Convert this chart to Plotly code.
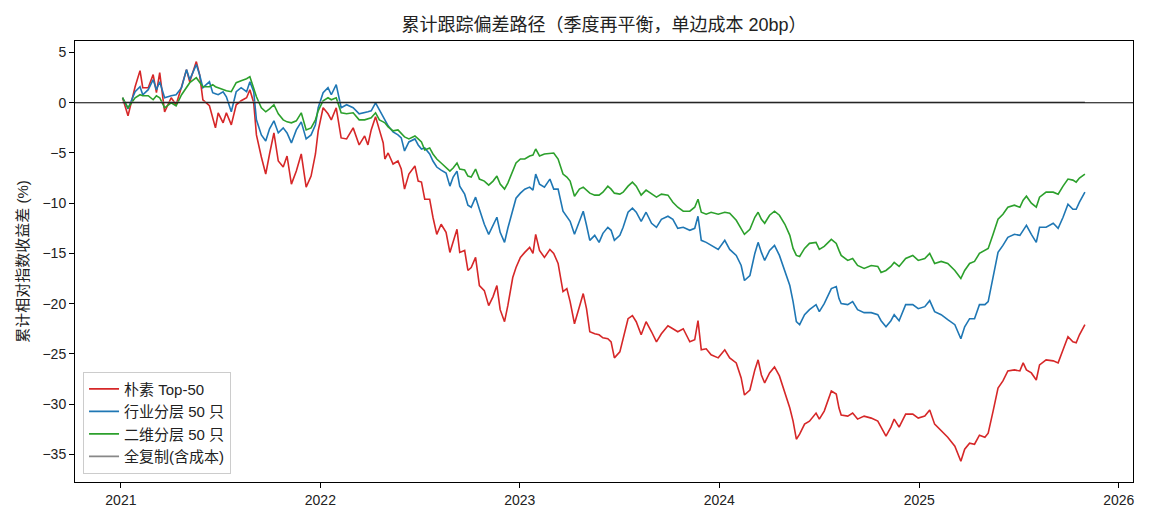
import plotly.graph_objects as go

# 日期
dates = [
    # 2021 - 2022-03
    "2021-01-04", "2021-01-14", "2021-01-27", "2021-02-05", "2021-02-10", "2021-02-20", "2021-03-01", "2021-03-07", "2021-03-13", "2021-03-22",
    "2021-04-03", "2021-04-12", "2021-04-22", "2021-05-01", "2021-05-07", "2021-05-19", "2021-05-25", "2021-05-31", "2021-06-12", "2021-06-18",
    "2021-06-23", "2021-06-28", "2021-07-07", "2021-07-13", "2021-07-22", "2021-07-31", "2021-08-09", "2021-08-19", "2021-08-25", "2021-09-01",
    "2021-09-06", "2021-09-15", "2021-09-23", "2021-09-30", "2021-10-08", "2021-10-16", "2021-10-25", "2021-11-01", "2021-11-09", "2021-11-18",
    "2021-11-27", "2021-12-06", "2021-12-15", "2021-12-23", "2021-12-28", "2022-01-06", "2022-01-15", "2022-01-21", "2022-01-30", "2022-02-08",
    "2022-02-18", "2022-03-02", "2022-03-13",
    # 2022-03 - 2023-05
    "2022-03-23", "2022-03-29", "2022-04-04", "2022-04-12", "2022-04-19", "2022-04-26", "2022-04-29", "2022-05-05", "2022-05-14", "2022-05-23",
    "2022-05-29", "2022-06-04", "2022-06-12", "2022-06-23", "2022-06-29", "2022-07-05", "2022-07-11", "2022-07-20", "2022-07-26", "2022-08-02",
    "2022-08-10", "2022-08-19", "2022-08-26", "2022-09-01", "2022-09-08", "2022-09-13", "2022-09-22", "2022-09-28", "2022-10-04", "2022-10-12",
    "2022-10-19", "2022-10-28", "2022-11-05", "2022-11-13", "2022-11-20", "2022-11-26", "2022-12-04", "2022-12-10", "2022-12-19", "2022-12-25",
    "2023-01-02", "2023-01-10", "2023-01-19", "2023-01-25", "2023-01-30", "2023-02-06", "2023-02-15", "2023-02-25", "2023-03-04", "2023-03-12",
    "2023-03-21", "2023-03-28", "2023-04-03", "2023-04-11", "2023-04-20", "2023-04-27", "2023-05-03", "2023-05-09", "2023-05-18", "2023-05-26",
    # 2023-06 - 2024-08
    "2023-06-02", "2023-06-11", "2023-06-17", "2023-06-23", "2023-07-03", "2023-07-09", "2023-07-18", "2023-07-26", "2023-08-02", "2023-08-11",
    "2023-08-20", "2023-08-30", "2023-09-08", "2023-09-17", "2023-09-29", "2023-10-08", "2023-10-17", "2023-10-27", "2023-11-08", "2023-11-17",
    "2023-11-23", "2023-11-29", "2023-12-08", "2023-12-17", "2023-12-30", "2024-01-11", "2024-01-20", "2024-02-01", "2024-02-10", "2024-02-16",
    "2024-02-26", "2024-03-06", "2024-03-12", "2024-03-18", "2024-03-24", "2024-04-02", "2024-04-11", "2024-04-20", "2024-04-30", "2024-05-09",
    "2024-05-15", "2024-05-21", "2024-05-27", "2024-06-05", "2024-06-14", "2024-06-26", "2024-07-02", "2024-07-11", "2024-07-24", "2024-08-02",
    "2024-08-07",
    # 2024-08 - 2025-10
    "2024-08-11", "2024-08-23", "2024-09-01", "2024-09-10", "2024-09-22", "2024-10-05", "2024-10-17", "2024-10-23", "2024-11-01", "2024-11-10",
    "2024-11-16", "2024-11-25", "2024-12-07", "2024-12-20", "2024-12-30", "2025-01-11", "2025-01-20", "2025-01-29", "2025-02-10", "2025-02-22",
    "2025-03-07", "2025-03-18", "2025-03-25", "2025-04-03", "2025-04-12", "2025-04-21", "2025-05-01", "2025-05-07", "2025-05-16", "2025-05-25",
    "2025-06-03", "2025-06-12", "2025-06-24", "2025-07-04", "2025-07-10", "2025-07-16", "2025-07-25", "2025-08-03", "2025-08-09", "2025-08-21",
    "2025-09-03", "2025-09-12", "2025-09-21", "2025-09-30", "2025-10-09", "2025-10-15", "2025-10-21", "2025-10-31",
]

# 朴素 Top-50
naive = [
    0.5, -1.3, 1.6, 3.2, 1.5, 1.5, 2.8, 1.0, 3.0, -0.9,
    0.5, -0.2, 1.6, 3.3, 2.1, 4.1, 2.8, 0.3, -0.3, -1.5,
    -2.5, -1.0, -2.0, -1.0, -2.2, -0.2, 0.2, 0.5, 1.3, 0.0,
    -3.2, -5.4, -7.1, -5.1, -3.0, -5.8, -6.4, -5.3, -8.1, -6.8,
    -5.1, -8.4, -7.3, -5.1, -2.8, -0.5, -1.1, -1.7, -0.5, -3.5,
    -3.6, -2.5, -4.2,
    -3.3, -4.2, -2.7, -1.4, -2.7, -4.0, -5.6, -5.0, -6.1, -5.8,
    -6.6, -8.6, -7.1, -6.3, -7.8, -7.9, -9.6, -9.6, -11.4, -13.1,
    -12.1, -12.9, -14.9, -13.9, -12.6, -14.9, -14.7, -16.7, -16.4, -15.4,
    -18.2, -18.7, -20.2, -19.3, -18.2, -20.6, -21.8, -20.2, -17.4, -16.4,
    -15.4, -14.9, -14.4, -15.0, -13.1, -14.7, -15.4, -14.6, -15.0, -16.0,
    -18.8, -18.5, -19.8, -22.0, -20.2, -19.0, -20.5, -22.8, -23.0, -23.1,
    -23.4, -23.5, -23.8, -25.4, -24.8, -23.4, -21.5, -21.2, -21.8, -23.1,
    -21.8, -22.8, -23.8, -23.0, -22.2, -22.5, -22.8, -22.5, -23.8, -23.6,
    -21.7, -24.6, -24.5, -25.1, -25.4, -24.6, -25.4, -25.9, -27.4, -29.1,
    -28.6, -26.6, -25.6, -27.1, -27.9, -26.9, -26.3, -27.2, -28.9, -30.4,
    -31.7, -33.5, -33.0, -32.0, -31.7, -30.9, -31.5, -30.7, -28.7, -29.0,
    -30.4,
    -31.1, -31.2, -30.9, -31.5, -31.2, -31.4, -31.7, -32.3, -33.2, -32.3,
    -31.5, -32.3, -31.0, -31.0, -31.4, -31.2, -30.6, -32.0, -32.7, -33.3,
    -34.2, -35.7, -34.5, -33.9, -34.0, -33.1, -33.3, -32.9, -30.7, -28.4,
    -27.7, -26.7, -26.6, -26.7, -25.9, -26.6, -26.9, -27.6, -26.1, -25.6,
    -25.7, -25.9, -24.6, -23.3, -23.8, -23.9, -23.1, -22.1,
]

# 行业分层 50 只
industry = [
    0.5, -0.6, 1.1, 1.6, 0.8, 1.3, 2.3, 1.3, 2.1, 0.5,
    0.7, 0.8, 1.5, 3.3, 2.3, 3.8, 2.8, 1.5, 2.1, 1.0,
    0.9, 0.8, 1.1, 0.6, -0.9, 1.1, 1.5, 1.1, 2.1, 1.1,
    -1.7, -3.2, -3.8, -2.6, -1.8, -3.0, -2.5, -3.0, -4.0, -2.7,
    -1.9, -3.6, -3.2, -2.2, -0.5, 1.0, 1.5, 0.8, 1.8, -0.5,
    -0.2, -0.5, -1.1,
    -1.0, -0.9, -0.8, 0.0, -0.7, -1.4, -1.7, -2.3, -2.9, -3.2,
    -3.5, -4.8, -3.9, -3.6, -4.2, -4.6, -4.5, -5.1, -5.8, -6.4,
    -6.7, -7.0, -8.3, -7.4, -6.8, -8.3, -9.1, -10.2, -10.4, -9.4,
    -10.6, -12.1, -13.1, -12.2, -11.4, -12.9, -13.9, -12.5, -10.6, -9.5,
    -9.0, -8.6, -8.4, -8.7, -7.1, -8.1, -8.4, -7.6, -8.6, -8.6,
    -10.8, -11.4, -11.8, -13.1, -11.9, -10.8, -12.2, -13.7, -13.2, -13.9,
    -13.0, -12.4, -12.7, -13.7, -13.2, -12.4, -10.9, -10.5, -10.9, -11.8,
    -10.9, -12.0, -12.4, -11.6, -11.3, -11.6, -12.5, -12.4, -12.7, -12.5,
    -11.3, -13.7, -13.9, -14.2, -14.6, -13.7, -14.6, -15.2, -16.2, -17.7,
    -17.2, -15.0, -13.9, -14.9, -15.7, -14.7, -14.2, -15.2, -16.7, -18.2,
    -19.8, -21.8, -22.1, -21.1, -20.6, -20.1, -20.8, -20.0, -18.5, -18.3,
    -19.5,
    -20.0, -20.1, -19.8, -20.6, -20.9, -20.9, -21.1, -21.7, -22.3, -21.7,
    -21.1, -21.7, -20.1, -20.1, -20.5, -20.3, -19.7, -20.8, -21.1, -21.6,
    -22.1, -23.5, -22.3, -21.5, -21.5, -20.1, -20.1, -19.8, -17.2, -14.9,
    -14.2, -13.4, -13.1, -13.2, -12.7, -12.2, -13.1, -13.9, -12.4, -12.4,
    -12.0, -12.5, -11.4, -10.1, -10.6, -10.6, -9.9, -8.9,
]

# 二维分层 50 只
twodim = [
    0.5, -0.5, 0.5, 0.8, 0.7, 0.7, 0.3, 0.7, 0.5, -0.5,
    0.0, -0.3, 0.8, 1.6, 2.0, 2.5, 2.0, 1.6, 1.6, 1.8,
    1.6, 1.5, 1.3, 1.2, 1.1, 2.0, 2.2, 2.4, 2.6, 1.5,
    0.6, -0.5, -0.9, -0.6, -0.2, -1.1, -1.7, -1.9, -2.0, -1.8,
    -1.0, -2.7, -2.5, -1.7, -0.8, 0.2, 0.5, 0.3, 0.5, -1.0,
    -1.1, -1.0, -1.7,
    -1.7, -1.6, -1.5, -1.0, -1.7, -1.9, -2.0, -2.4, -2.8, -2.7,
    -3.1, -3.4, -3.6, -3.3, -3.6, -3.9, -4.7, -4.5, -5.1, -5.6,
    -6.0, -6.5, -6.8, -6.5, -6.0, -6.6, -6.7, -7.3, -7.4, -6.6,
    -7.6, -7.8, -8.2, -7.8, -7.3, -8.1, -8.6, -8.0, -6.9, -6.0,
    -5.6, -5.6, -5.3, -5.2, -4.6, -5.3, -5.1, -5.0, -5.0, -5.6,
    -7.1, -7.4, -7.8, -9.3, -8.6, -8.4, -8.7, -9.0, -9.2, -9.2,
    -8.9, -8.3, -8.6, -9.0, -9.1, -8.9, -8.3, -7.9, -8.3, -9.2,
    -8.7, -9.1, -9.4, -9.1, -9.2, -9.9, -10.4, -10.8, -10.8, -10.4,
    -9.6, -10.9, -11.1, -10.9, -11.1, -10.9, -11.0, -11.7, -12.5, -13.1,
    -12.6, -11.4, -10.9, -11.6, -12.0, -11.2, -10.8, -11.2, -12.1, -13.2,
    -14.5, -15.2, -15.3, -14.5, -14.0, -13.9, -14.6, -14.3, -13.6, -14.0,
    -14.7,
    -15.2, -15.7, -15.5, -16.2, -16.5, -16.2, -16.3, -16.9, -16.7, -16.3,
    -15.9, -16.3, -15.5, -15.2, -15.7, -15.5, -15.0, -16.0, -15.8, -16.0,
    -16.7, -17.5, -16.7, -16.0, -15.8, -15.0, -14.7, -14.5, -13.1, -11.6,
    -11.1, -10.4, -10.2, -10.4, -9.7, -9.3, -10.0, -10.4, -9.4, -8.9,
    -8.9, -9.1, -8.3, -7.6, -7.7, -7.9, -7.5, -7.1,
]

# 全复制(含成本)，几乎贴着 0
full_dates = ["2021-01-04", "2022-01-04", "2023-01-03", "2024-01-02", "2025-01-02", "2025-10-31"]
full_vals = [0.05, 0.05, 0.05, 0.05, 0.05, 0.05]

year_ticks = ["2021-01-01", "2022-01-01", "2023-01-01", "2024-01-01", "2025-01-01", "2026-01-01"]
year_labels = ["2021", "2022", "2023", "2024", "2025", "2026"]
y_ticks = [5, 0, -5, -10, -15, -20, -25, -30, -35]

FONT = "Liberation Sans, Noto Sans CJK SC, sans-serif"

fig = go.Figure()
fig.add_trace(go.Scatter(x=dates, y=naive, mode="lines", name="朴素 Top-50",
                         line=dict(color="#d62728", width=1.6)))
fig.add_trace(go.Scatter(x=dates, y=industry, mode="lines", name="行业分层 50 只",
                         line=dict(color="#1f77b4", width=1.6)))
fig.add_trace(go.Scatter(x=dates, y=twodim, mode="lines", name="二维分层 50 只",
                         line=dict(color="#2ca02c", width=1.6)))
fig.add_trace(go.Scatter(x=full_dates, y=full_vals, mode="lines", name="全复制(含成本)",
                         line=dict(color="#888888", width=1.6)))

# 零线
fig.add_hline(y=0, line_color="black", line_width=1)

# 页面 body 自带 8px 边距，画布缩小并相应调整边距
fig.update_layout(
    width=1139, height=512,
    margin=dict(l=67, r=14, t=33, b=34),
    paper_bgcolor="white",
    plot_bgcolor="white",
    font=dict(family=FONT, size=14, color="#222222"),
    title=dict(text="累计跟踪偏差路径（季度再平衡，单边成本 20bp）",
               x=0.5, xref="paper", xanchor="center",
               y=1 - 17 / 512, yref="container", yanchor="middle",
               font=dict(size=18, color="#222222")),
    showlegend=True,
    legend=dict(x=0.0076, y=0.019, xanchor="left", yanchor="bottom",
                bgcolor="rgba(255,255,255,0.8)", bordercolor="#cccccc", borderwidth=1,
                font=dict(size=15), itemwidth=30, tracegroupgap=0),
)

fig.update_xaxes(
    type="date", range=["2020-10-09", "2026-01-27"],
    tickvals=year_ticks, ticktext=year_labels,
    ticks="outside", ticklen=5, tickcolor="black",
    showline=True, linecolor="black", linewidth=1, mirror=True,
    showgrid=False, zeroline=False,
)
fig.update_yaxes(
    range=[-37.76, 6.15], tickvals=y_ticks,
    ticks="outside", ticklen=5, tickcolor="black",
    showline=True, linecolor="black", linewidth=1, mirror=True,
    showgrid=False, zeroline=False,
    title=dict(text="累计相对指数收益差 (%)", font=dict(size=15), standoff=10),
)

fig.write_html("out.html")
